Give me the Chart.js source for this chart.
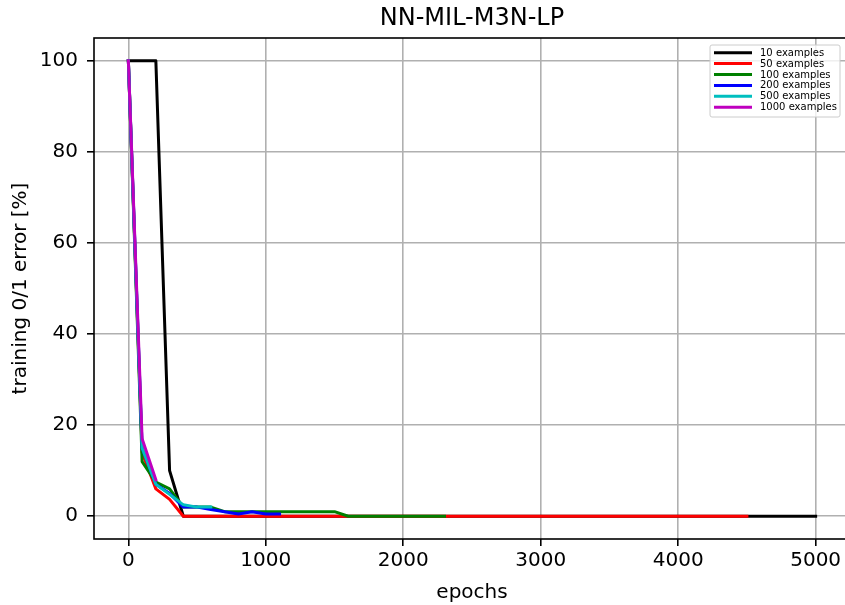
<!DOCTYPE html>
<html>
<head>
<meta charset="utf-8">
<title>NN-MIL-M3N-LP</title>
<script src="https://cdn.jsdelivr.net/npm/chart.js@4.4.0/dist/chart.umd.min.js"></script>
<style>
  html, body { margin: 0; padding: 0; background: #ffffff; overflow: hidden; }
  #wrap { width: 855px; height: 605px; position: relative; }
</style>
</head>
<body>
<div id="wrap"><canvas id="c"></canvas></div>
<script>
// ---- chart text ----
const chartTitle = 'NN-MIL-M3N-LP';
const xLabel = 'epochs';
const yLabel = 'training 0/1 error [%]';

// ---- series ----
const seriesLabels = ['10 examples', '50 examples', '100 examples', '200 examples', '500 examples', '1000 examples'];
const seriesColors = ['#000000', '#ff0000', '#008000', '#0000ff', '#00bfbf', '#bf00bf'];

const epochs10 = [0, 100, 200, 300, 400, 5000];
const error10 = [100, 100, 100, 10, 0, 0];

const epochs50 = [0, 100, 200, 300, 400, 4500];
const error50 = [100, 14, 6, 3.7, 0, 0];

const epochs100 = [0, 100, 200, 300, 400, 500, 600, 700, 1500, 1600, 2300];
const error100 = [100, 12, 7.5, 6, 2, 2, 2, 1, 1, 0, 0];

const epochs200 = [0, 100, 200, 300, 400, 500, 600, 700, 800, 900, 1000, 1100];
const error200 = [100, 15, 7, 5, 2, 2, 1.5, 1, 0.5, 1, 0.5, 0.5];

const epochs500 = [0, 100, 200, 300, 400, 500, 600];
const error500 = [100, 15, 7, 4.8, 2.5, 2, 2];

const epochs1000 = [0, 100, 200];
const error1000 = [100, 17, 8];

// ---- ticks ----
const xTicks = [0, 1000, 2000, 3000, 4000, 5000];
const yTicks = [0, 20, 40, 60, 80, 100];

const seriesEpochs = [epochs10, epochs50, epochs100, epochs200, epochs500, epochs1000];
const seriesErrors = [error10, error50, error100, error200, error500, error1000];

const FONT = 'DejaVu Sans';
Chart.defaults.font.family = FONT;
Chart.defaults.color = '#000000';

const datasets = seriesLabels.map((label, i) => ({
  label: label,
  data: seriesEpochs[i].map((e, j) => ({ x: e, y: seriesErrors[i][j] })),
  borderColor: seriesColors[i],
  backgroundColor: seriesColors[i],
  borderWidth: 3,
  borderJoinStyle: 'round',
  borderCapStyle: 'square',
  pointRadius: 0,
  pointHoverRadius: 0,
  fill: false,
  tension: 0,
  order: seriesLabels.length - i   // later series drawn on top
}));

// box around the plotting area
const framePlugin = {
  id: 'frame',
  afterDatasetsDraw(chart) {
    const { ctx, chartArea: a } = chart;
    ctx.save();
    ctx.strokeStyle = '#000000';
    ctx.lineWidth = 1.6;
    ctx.strokeRect(a.left, a.top, a.right - a.left, a.bottom - a.top);
    ctx.restore();
  }
};

// legend inside the upper right corner of the plot
const insideLegend = {
  id: 'insideLegend',
  afterDraw(chart) {
    const { ctx, chartArea: a } = chart;
    const ds = chart.data.datasets;
    const boxW = 130, boxH = 72;
    const x0 = a.right - 10 - boxW;
    const y0 = a.top + 7;
    const r = 2;
    ctx.save();
    ctx.beginPath();
    ctx.moveTo(x0 + r, y0);
    ctx.lineTo(x0 + boxW - r, y0);
    ctx.quadraticCurveTo(x0 + boxW, y0, x0 + boxW, y0 + r);
    ctx.lineTo(x0 + boxW, y0 + boxH - r);
    ctx.quadraticCurveTo(x0 + boxW, y0 + boxH, x0 + boxW - r, y0 + boxH);
    ctx.lineTo(x0 + r, y0 + boxH);
    ctx.quadraticCurveTo(x0, y0 + boxH, x0, y0 + boxH - r);
    ctx.lineTo(x0, y0 + r);
    ctx.quadraticCurveTo(x0, y0, x0 + r, y0);
    ctx.closePath();
    ctx.fillStyle = 'rgba(255,255,255,0.8)';
    ctx.fill();
    ctx.strokeStyle = '#cccccc';
    ctx.lineWidth = 1;
    ctx.stroke();

    ctx.font = '10px "' + FONT + '"';
    ctx.textBaseline = 'middle';
    ctx.textAlign = 'left';
    const rowH = 10.9;
    ds.forEach((d, i) => {
      const cy = y0 + 7.7 + i * rowH;
      ctx.beginPath();
      ctx.moveTo(x0 + 4, cy);
      ctx.lineTo(x0 + 42, cy);
      ctx.strokeStyle = d.borderColor;
      ctx.lineWidth = 3;
      ctx.stroke();
      ctx.fillStyle = '#000000';
      ctx.fillText(d.label, x0 + 50, cy + 0.5);
    });
    ctx.restore();
  }
};

const plainTick = v => String(v);

new Chart(document.getElementById('c'), {
  type: 'line',
  data: { datasets: datasets },
  plugins: [framePlugin, insideLegend],
  options: {
    responsive: true,
    maintainAspectRatio: false,
    animation: false,
    layout: { padding: { left: 0, right: 5, top: 0, bottom: 0 } },
    plugins: {
      legend: { display: false },
      tooltip: { enabled: false },
      title: {
        display: true,
        text: chartTitle,
        fullSize: false,
        color: '#000000',
        font: { family: FONT, size: 24, weight: 'normal' },
        padding: { top: 4.4, bottom: 4.8 }
      }
    },
    scales: {
      x: {
        type: 'linear',
        min: -250,
        max: 5250,
        afterBuildTicks(scale) { scale.ticks = xTicks.map(v => ({ value: v })); },
        afterFit(scale) { scale.height = 66; },
        ticks: {
          color: '#000000',
          font: { family: FONT, size: 20 },
          padding: 3,
          maxRotation: 0,
          autoSkip: false,
          callback: plainTick
        },
        grid: {
          color: '#b0b0b0',
          lineWidth: 1.6,
          tickColor: '#000000',
          tickLength: 7,
          drawTicks: true
        },
        border: { display: false },
        title: {
          display: true,
          text: xLabel,
          color: '#000000',
          font: { family: FONT, size: 20 },
          padding: { top: 0, bottom: 0 }
        }
      },
      y: {
        type: 'linear',
        min: -5,
        max: 105,
        afterBuildTicks(scale) { scale.ticks = yTicks.map(v => ({ value: v })); },
        afterFit(scale) { scale.width = 94; },
        ticks: {
          color: '#000000',
          font: { family: FONT, size: 20 },
          padding: 9,
          autoSkip: false,
          callback: plainTick
        },
        grid: {
          color: '#b0b0b0',
          lineWidth: 1.6,
          tickColor: '#000000',
          tickLength: 7,
          drawTicks: true
        },
        border: { display: false },
        title: {
          display: true,
          text: yLabel,
          color: '#000000',
          font: { family: FONT, size: 20 },
          padding: { top: 9, bottom: 0 }
        }
      }
    }
  }
});
</script>
</body>
</html>
